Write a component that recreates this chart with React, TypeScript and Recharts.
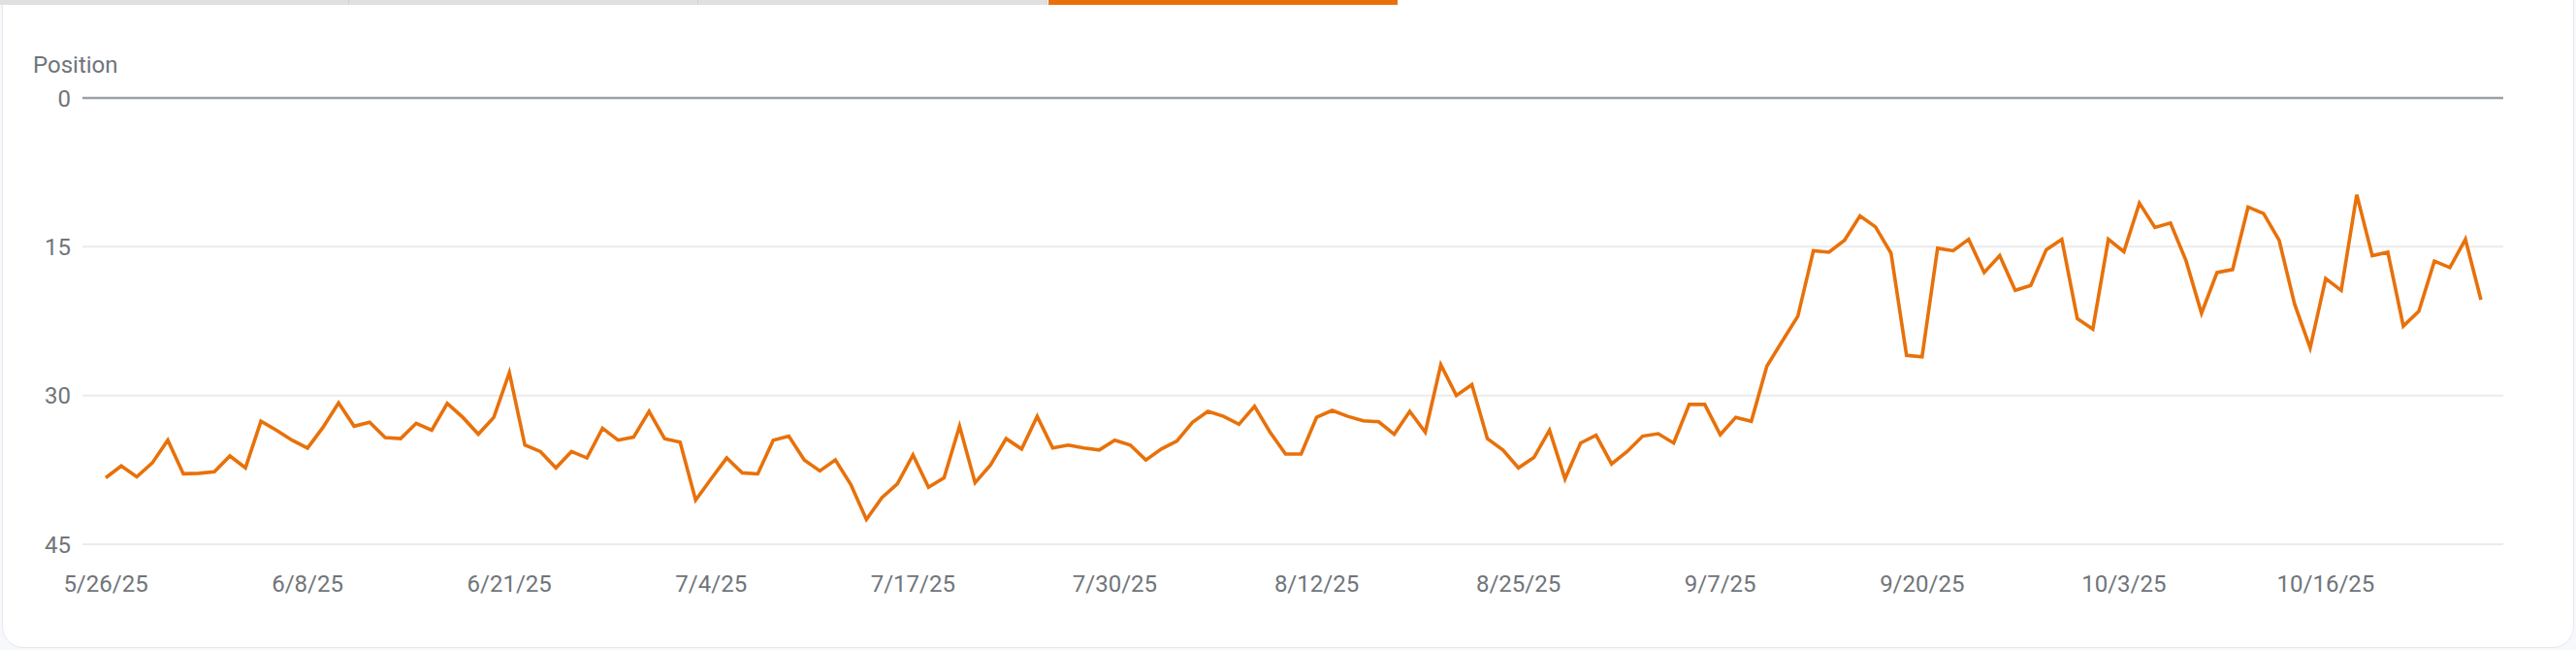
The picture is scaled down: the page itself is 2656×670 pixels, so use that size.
import React from 'react';
import { LineChart, Line, XAxis, YAxis, CartesianGrid, ReferenceLine } from 'recharts';

// daily average position, 5/26/25 .. 10/26/25
const positions = [
  38.3, 37.1, 38.2, 36.8, 34.5, 37.9, 37.85, 37.7, 36.1, 37.3, 32.6, 33.5, 34.5, 35.3, 33.2, 30.75, 33.1, 32.7, 34.25, 34.35, 32.8,
  33.5, 30.8, 32.2, 33.9, 32.2, 27.7, 35.0, 35.65, 37.3, 35.65, 36.3, 33.3, 34.5, 34.2, 31.6, 34.35, 34.7, 40.55, 38.4, 36.3,
  37.8, 37.9, 34.5, 34.1, 36.5, 37.6, 36.5, 39.0, 42.5, 40.3, 38.9, 36.0, 39.25, 38.3, 33.1, 38.8, 37.0, 34.35, 35.4, 32.1,
  35.3, 35.0, 35.3, 35.5, 34.5, 35.0, 36.5, 35.4, 34.6, 32.7, 31.6, 32.1, 32.9, 31.1, 33.7, 35.9, 35.9, 32.2, 31.5, 32.1,
  32.55, 32.65, 33.9, 31.6, 33.7, 26.9, 30.0, 28.9, 34.35, 35.5, 37.3, 36.25, 33.5, 38.4, 34.8, 34.0, 36.9, 35.65, 34.1, 33.85,
  34.8, 30.9, 30.9, 33.95, 32.2, 32.6, 27.05, 24.5, 22.0, 15.4, 15.55, 14.35, 11.9, 13.0, 15.65, 25.95, 26.1, 15.15, 15.4, 14.25,
  17.6, 15.9, 19.4, 18.9, 15.3, 14.25, 22.25, 23.3, 14.25, 15.5, 10.6, 13.05, 12.6, 16.4, 21.7, 17.6, 17.3, 11.0, 11.65, 14.35,
  20.8, 25.2, 18.2, 19.4, 9.75, 15.9, 15.55, 23.0, 21.5, 16.45, 17.1, 14.25, 20.35,
];

const startDate = [2025, 4, 26]; // year, month index, day
const yTicks = [0, 15, 30, 45];
const tabs = ['', '', '', ''];

const dateLabel = (i: number) => {
  const d = new Date(startDate[0], startDate[1], startDate[2] + i);
  return `${d.getMonth() + 1}/${d.getDate()}/${String(d.getFullYear()).slice(2)}`;
};

const data = positions.map((p, i) => ({ date: dateLabel(i), position: p }));

const ORANGE = '#e8710a';
const GREY_TEXT = '#70757a';

const App: React.FC = () => {
  return (
    <div style={{ position: 'relative', width: 2656, height: 670, background: '#f7f8fc', overflow: 'hidden', fontFamily: 'Roboto, sans-serif' }}>
      <style>{'body{margin:0}'}</style>
      <div
        style={{
          position: 'absolute', left: 2, top: -30, width: 2650, height: 696,
          background: '#fff', border: '1px solid #e6e8ec', borderRadius: 22,
        }}
      />
      {/* tab strip */}
      {tabs.map((t, i) => (
        <div
          key={i}
          style={{
            position: 'absolute', left: i * 360 + (i === 3 ? 1 : 0), top: 0, width: 360, height: 5,
            background: i === 3 ? ORANGE : '#e0e0e0',
            borderRight: i < 3 ? '1px solid #cfd1d4' : 'none', boxSizing: 'border-box',
          }}
        >
          {t}
        </div>
      ))}
      <div style={{ position: 'absolute', left: 34, top: 52, fontSize: 24, color: GREY_TEXT, lineHeight: '30px' }}>
        Position
      </div>
      <div style={{ position: 'absolute', left: 0, top: 0 }}>
        <LineChart width={2656} height={670} data={data} margin={{ top: 101, right: 75, bottom: 49, left: 0 }}>
          <CartesianGrid vertical={false} stroke="#ebebeb" strokeWidth={2} />
          <XAxis
            dataKey="date"
            scale="point"
            interval={12}
            padding={{ left: 24, right: 23 }}
            axisLine={false}
            tickLine={false}
            tickSize={0}
            tickMargin={32}
            height={60}
            tick={{ fill: GREY_TEXT, fontSize: 24 }}
          />
          <YAxis
            reversed
            domain={[0, 45]}
            ticks={yTicks}
            width={85}
            axisLine={false}
            tickLine={false}
            tickSize={0}
            tickMargin={12}
            tick={{ fill: GREY_TEXT, fontSize: 24 }}
          />
          <ReferenceLine y={0} stroke="#9aa0a6" strokeWidth={2.5} />
          <Line
            type="linear"
            dataKey="position"
            stroke={ORANGE}
            strokeWidth={3.6}
            dot={false}
            activeDot={false}
            isAnimationActive={false}
          />
        </LineChart>
      </div>
    </div>
  );
};

export default App;
